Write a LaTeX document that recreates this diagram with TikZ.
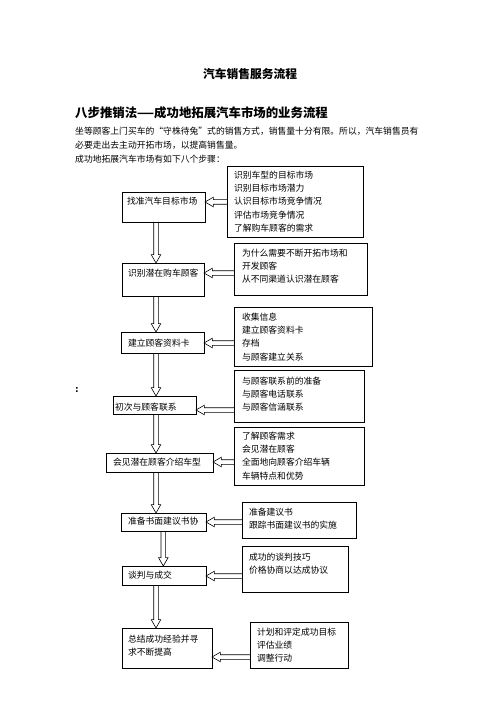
\documentclass[tikz,border=0pt]{standalone}
\usepackage{fontspec}
\newfontfamily\cjk{Noto Sans CJK SC}
\usetikzlibrary{calc,backgrounds}
\tikzset{
  box/.style={draw=black, line width=0.6pt, inner ysep=0pt, outer sep=0pt, align=left,
    font=\cjk\fontsize{8.8}{13.3}\selectfont},
  txt/.style={inner sep=0pt, anchor=west, font=\cjk\fontsize{8.8}{13.3}\selectfont},
  blk/.style={draw=black, line width=0.6pt, line join=miter}
}
% name, x1, ytop, x2, ybottom, first-line centre y, inset, text
\newcommand\flowbox[8]{%
  \pgfmathsetmacro\fbw{#4-#2-2*#7}%
  \pgfmathsetmacro\fbh{#6+3.3-#3}%
  \pgfmathsetmacro\fbd{#5-#6-3.3}%
  \pgfmathsetmacro\fby{#6+3.3}%
  \node[box, anchor=base west, inner xsep=#7pt, text width=\fbw pt,
    text height=\fbh pt, text depth=\fbd pt] (#1) at (#2,\fby) {#8};%
}
% hollow block arrow pointing down, from #1 to #2
\newcommand\vblkarrow[2]{%
  \draw[blk] let \p1=(#1), \p2=(#2) in
    (\x1-2.3pt,\y1) -- (\x1-2.3pt,\y2+8.4pt) -- (\x1-4.8pt,\y2+8.4pt) -- (\x1,\y2)
    -- (\x1+4.8pt,\y2+8.4pt) -- (\x1+2.3pt,\y2+8.4pt) -- (\x1+2.3pt,\y1);%
}
% hollow block arrow pointing left, from #1 to #2
\newcommand\hblkarrow[2]{%
  \draw[blk] let \p1=(#1), \p2=(#2) in
    (\x1,\y1+2.3pt) -- (\x2+8.4pt,\y1+2.3pt) -- (\x2+8.4pt,\y1+4.8pt) -- (\x2,\y1)
    -- (\x2+8.4pt,\y1-4.8pt) -- (\x2+8.4pt,\y1-2.3pt) -- (\x1,\y1-2.3pt);%
}
\begin{document}
\begin{tikzpicture}[x=1pt,y=-1pt]
\useasboundingbox (0,0) rectangle (500,708);

\node[inner sep=0pt, font=\cjk\bfseries\fontsize{11.75}{14}\selectfont] (title) at (250,74) {汽车销售服务流程};
\node[inner sep=0pt, anchor=west, font=\cjk\bfseries\fontsize{12.4}{15}\selectfont] (head) at (75,113)
  {八步推销法\scalebox{0.8}[1]{——}成功地拓展汽车市场的业务流程};
\node[txt] (p1) at (75,131) {坐等顾客上门买车的“守株待兔”式的销售方式，销售量十分有限。所以，汽车销售员有};
\node[txt] (p2) at (75,145.5) {必要走出去主动开拓市场，以提高销售量。};
\node[txt] (p3) at (75,159) {成功地拓展汽车市场有如下八个步骤：};
\node[txt, anchor=center, font=\cjk\bfseries\fontsize{9}{11}\selectfont] (colon) at (77,390) {:};

% left column
\flowbox{b1}{122}{192}{205}{222}{201}{5}{找准汽车目标市场}
\flowbox{b2}{122}{263}{204}{296}{273}{6}{识别潜在购车顾客}
\flowbox{b3}{121}{332}{204}{353}{343}{7}{建立顾客资料卡}
\flowbox{b4}{113}{396}{196}{414}{407}{2}{初次与顾客联系}
\flowbox{b5}{106}{453}{213}{472}{462}{7}{会见潜在顾客介绍车型}
\flowbox{b6}{121}{513}{206}{531}{521}{7}{准备书面建议书协}
\flowbox{b7}{122}{566}{206}{585}{575}{6}{谈判与成交}
\flowbox{b8}{122}{628}{212}{668}{639}{6}{总结成功经验并寻\\求不断提高}

% right column
\flowbox{r1}{227}{166}{363}{237}{175}{7}{识别车型的目标市场\\识别目标市场潜力\\认识目标市场竞争情况\\评估市场竞争情况\\了解购车顾客的需求}
\flowbox{r2}{234}{243}{367}{295}{253}{8}{为什么需要不断开拓市场和\\开发顾客\\从不同渠道认识潜在顾客}
\flowbox{r3}{234}{307}{372}{366}{317}{8}{收集信息\\建立顾客资料卡\\存档\\与顾客建立关系}
\flowbox{r4}{234}{370}{364}{422}{381}{8}{与顾客联系前的准备\\与顾客电话联系\\与顾客信涵联系}
\flowbox{r5}{234}{427}{364}{485}{436}{8}{了解顾客需求\\会见潜在顾客\\全面地向顾客介绍车辆\\车辆特点和优势}
\flowbox{r6}{242}{502}{356}{538}{512}{7}{准备建议书\\跟踪书面建议书的实施}
\flowbox{r7}{242}{546}{348}{592}{557}{7}{成功的谈判技巧\\价格协商以达成协议}
\flowbox{r8}{250}{622}{348}{668}{632}{7}{计划和评定成功目标\\评估业绩\\调整行动}

\coordinate (cA) at (156,0);
\coordinate (cB) at (163.3,0);
\coordinate (h1) at (0,202);
\coordinate (h2) at (0,273);
\coordinate (h3) at (0,343);
\coordinate (h4) at (0,410);
\coordinate (h5) at (0,462);
\coordinate (h6) at (0,522);
\coordinate (h7) at (0,576);
\coordinate (h8) at (0,657);

\vblkarrow{b1.south -| cA}{b2.north -| cA}
\vblkarrow{b2.south -| cA}{b3.north -| cA}
\vblkarrow{b3.south -| cA}{b4.north -| cA}
\vblkarrow{b4.south -| cA}{b5.north -| cA}
\vblkarrow{b5.south -| cA}{b6.north -| cA}
\vblkarrow{b6.south -| cB}{b7.north -| cB}
\vblkarrow{b7.south -| cA}{b8.north -| cA}
\hblkarrow{r1.west |- h1}{b1.east |- h1}
\hblkarrow{r2.west |- h2}{b2.east |- h2}
\hblkarrow{r3.west |- h3}{b3.east |- h3}
\hblkarrow{r4.west |- h4}{b4.east |- h4}
\hblkarrow{r5.west |- h5}{b5.east |- h5}
\hblkarrow{r6.west |- h6}{b6.east |- h6}
\hblkarrow{r7.west |- h7}{b7.east |- h7}
\hblkarrow{r8.west |- h8}{b8.east |- h8}

\begin{pgfonlayer}{background}
\fill[white] (0,0) rectangle (500,708);
\end{pgfonlayer}
\end{tikzpicture}
\end{document}
